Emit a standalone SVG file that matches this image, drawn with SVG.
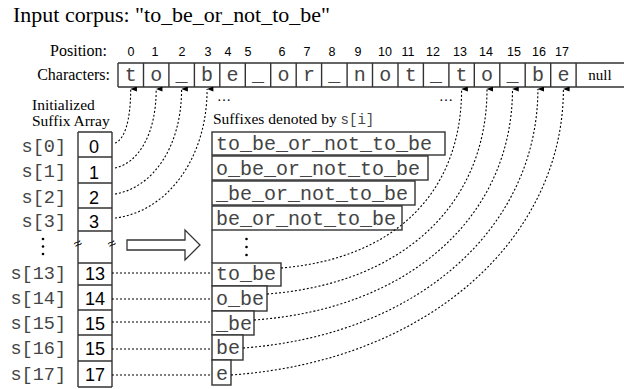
<svg xmlns="http://www.w3.org/2000/svg" width="624" height="389" viewBox="0 0 624 389">
<defs>
<marker id="ah" viewBox="0 0 6 8" refX="3" refY="0.5" markerWidth="5" markerHeight="7" orient="auto-start-reverse" markerUnits="userSpaceOnUse">
<path d="M0,8 L3,0 L6,8 Z" fill="#000"/>
</marker>
<style>
.serif{font-family:"Liberation Serif","Times New Roman",serif;fill:#000}
.sans{font-family:"Liberation Sans",Arial,sans-serif;fill:#000}
.mono{font-family:"Liberation Mono","Courier New",monospace;fill:#444}
.box{fill:#fff;stroke:#333;stroke-width:1.4}
.ln{fill:none;stroke:#333;stroke-width:1.4}
.dot{fill:none;stroke:#000;stroke-width:1.1;stroke-dasharray:2,2}
.arr{fill:none;stroke:#000;stroke-width:1.1;stroke-dasharray:2,2;marker-end:url(#ah)}
</style>
</defs>
<rect width="624" height="389" fill="#fff"/>
<text class="serif" x="13" y="22" font-size="22" textLength="317" lengthAdjust="spacingAndGlyphs">Input corpus: "to_be_or_not_to_be"</text>

<g id="position-row" class="sans" font-size="12.5" text-anchor="middle">
<text class="serif" x="107" y="56" font-size="16" text-anchor="end">Position:</text>
<text x="131" y="56">0</text><text x="155" y="56">1</text><text x="182" y="56">2</text><text x="208" y="56">3</text><text x="228" y="56">4</text><text x="248" y="56">5</text><text x="282" y="56">6</text><text x="307" y="56">7</text><text x="332" y="56">8</text><text x="358" y="56">9</text><text x="385" y="56">10</text><text x="408" y="56">11</text><text x="433" y="56">12</text><text x="460" y="56">13</text><text x="486" y="56">14</text><text x="514" y="56">15</text><text x="539" y="56">16</text><text x="562" y="56">17</text>
</g>

<g id="characters">
<text class="serif" x="110" y="80" font-size="16" text-anchor="end">Characters:</text>
<path class="ln" d="M118,63 H624 M118,87 H624 M118,63 V87 M143.5,63 V87 M168.9,63 V87 M194.4,63 V87 M219.8,63 V87 M245.3,63 V87 M270.7,63 V87 M296.2,63 V87 M321.6,63 V87 M347.1,63 V87 M372.5,63 V87 M398,63 V87 M423.4,63 V87 M448.9,63 V87 M474.3,63 V87 M499.8,63 V87 M525.2,63 V87 M550.7,63 V87 M576.1,63 V87"/>
<g class="mono" font-size="20" text-anchor="middle">
<text x="130.7" y="81">t</text><text x="156.2" y="81">o</text><text x="181.6" y="81">_</text><text x="207.1" y="81">b</text><text x="232.5" y="81">e</text><text x="258" y="81">_</text><text x="283.4" y="81">o</text><text x="308.9" y="81">r</text><text x="334.3" y="81">_</text><text x="359.8" y="81">n</text><text x="385.2" y="81">o</text><text x="410.7" y="81">t</text><text x="436.1" y="81">_</text><text x="461.6" y="81">t</text><text x="487" y="81">o</text><text x="512.5" y="81">_</text><text x="537.9" y="81">b</text><text x="563.4" y="81">e</text>
</g>
<text class="serif" x="600" y="80" font-size="15" text-anchor="middle">null</text>
<text class="serif" x="217" y="101" font-size="14">…</text>
<text class="serif" x="439" y="101" font-size="14">…</text>
</g>

<g id="suffix-array">
<text class="serif" x="32" y="110" font-size="15.5">Initialized</text>
<text class="serif" x="32" y="126" font-size="15.5">Suffix Array</text>
<path class="ln" d="M78,132 H112 M78,157 H112 M78,183 H112 M78,208 H112 M78,231 H112 M78,263 H112 M78,285 H112 M78,310 H112 M78,335 H112 M78,361 H112 M78,387 H112 M78,132 V387 M112,132 V387"/>
<g class="sans" font-size="18" text-anchor="middle">
<text x="94" y="153">0</text><text x="94" y="179">1</text><text x="94" y="204">2</text><text x="94" y="228">3</text>
<text x="95" y="280">13</text><text x="95" y="305">14</text><text x="95" y="330">15</text><text x="95" y="355">15</text><text x="95" y="381">17</text>
</g>
<g class="mono" font-size="18.5" text-anchor="end">
<text x="66" y="152">s[0]</text><text x="66" y="177">s[1]</text><text x="66" y="203">s[2]</text><text x="66" y="227">s[3]</text>
<text x="66" y="279">s[13]</text><text x="66" y="304">s[14]</text><text x="66" y="329">s[15]</text><text x="66" y="354">s[16]</text><text x="66" y="380">s[17]</text>
</g>
<g fill="#000"><circle cx="43" cy="239" r="1.3"/><circle cx="43" cy="246.5" r="1.3"/><circle cx="43" cy="254" r="1.3"/></g>
<text class="sans" x="78" y="248" font-size="14" text-anchor="middle" transform="rotate(-30 78 244)">≈</text>
<text class="sans" x="112" y="248" font-size="14" text-anchor="middle" transform="rotate(-30 112 244)">≈</text>
</g>

<g id="big-arrow">
<path d="M127,240 H185 V230 L200,245 L185,260 V250 H127 Z" fill="#fff" stroke="#333" stroke-width="1.3"/>
</g>

<g id="suffixes">
<text class="serif" x="213" y="124" font-size="15.5">Suffixes denoted by <tspan class="mono" font-size="14" fill="#777">s[i]</tspan></text>
<rect class="box" x="212" y="132" width="233" height="23"/>
<rect class="box" x="212" y="156" width="216" height="24"/>
<rect class="box" x="212" y="181" width="203" height="24"/>
<rect class="box" x="212" y="206" width="190" height="24"/>
<path class="ln" d="M212,230 V263"/>
<rect class="box" x="212" y="263" width="69" height="23"/>
<rect class="box" x="212" y="286" width="55" height="25"/>
<rect class="box" x="212" y="311" width="42" height="24"/>
<rect class="box" x="212" y="335" width="31" height="25"/>
<rect class="box" x="212" y="360" width="19" height="25"/>
<g fill="#000"><circle cx="246.5" cy="239" r="1.3"/><circle cx="246.5" cy="247" r="1.3"/><circle cx="246.5" cy="255" r="1.3"/></g>
<g class="mono" font-size="20">
<text x="216" y="150">to_be_or_not_to_be</text>
<text x="216" y="175">o_be_or_not_to_be</text>
<text x="216" y="200">_be_or_not_to_be</text>
<text x="216" y="225">be_or_not_to_be</text>
<text x="216" y="280">to_be</text>
<text x="216" y="305">o_be</text>
<text x="216" y="330">_be</text>
<text x="216" y="354">be</text>
<text x="216" y="380">e</text>
</g>
</g>

<g id="connectors">
<path class="arr" d="M115,143 C124,140 130.7,122 130.7,89"/>
<path class="arr" d="M115,168 C138,163 156.2,135 156.2,89"/>
<path class="arr" d="M115,194 C152,188 181.6,148 181.6,89"/>
<path class="arr" d="M115,218 C166,212 207.1,160 207.1,89"/>
<path class="dot" d="M112,273 H212 M112,299 H212 M112,322 H212 M112,349 H212 M112,375 H212"/>
<path class="arr" d="M281,268 C391,259 461.6,196 461.6,89"/>
<path class="arr" d="M267,294 C401,284 487,206 487,89"/>
<path class="arr" d="M254,320 C410,309 512.5,216 512.5,89"/>
<path class="arr" d="M243,348 C420,335 537.9,226 537.9,89"/>
<path class="arr" d="M231,375 C431,361 563.4,236 563.4,89"/>
</g>
</svg>
